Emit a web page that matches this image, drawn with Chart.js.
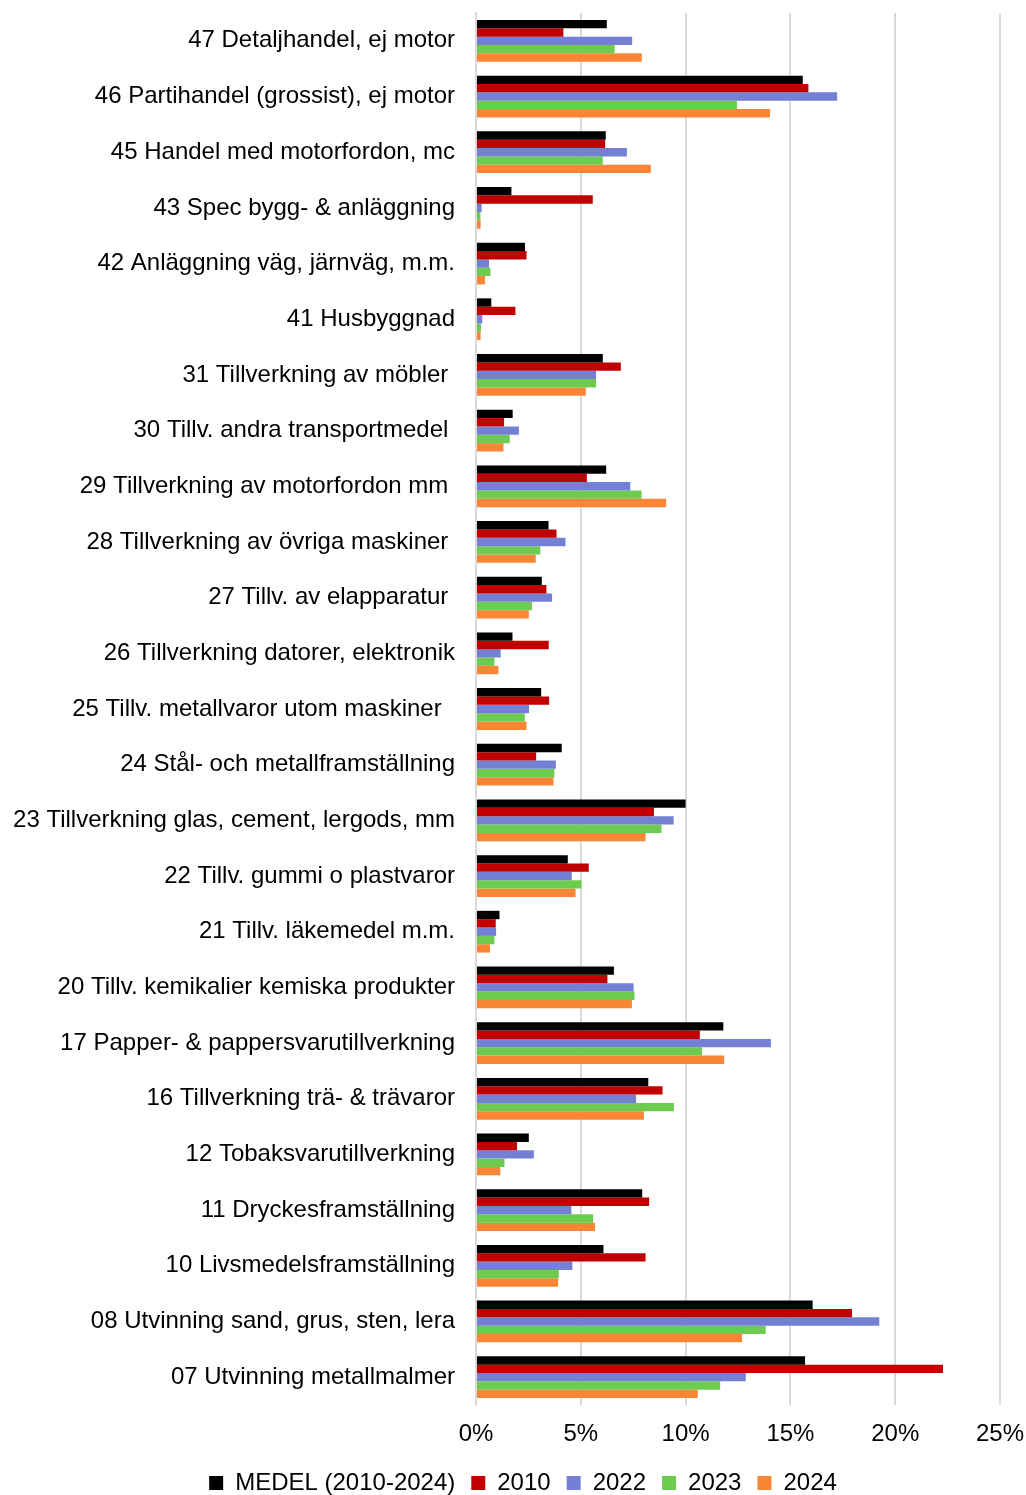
<!DOCTYPE html>
<html>
<head>
<meta charset="utf-8">
<script src="https://cdn.jsdelivr.net/npm/chart.js@4/dist/chart.umd.min.js"></script>
<style>
  html, body { margin: 0; padding: 0; background: #fff; }
  #wrap { width: 1026px; height: 1495px; position: relative; }
</style>
</head>
<body>
<div id="wrap"><canvas id="c" width="1026" height="1495"></canvas></div>
<script>
const categories = [
  '47 Detaljhandel, ej motor',
  '46 Partihandel (grossist), ej motor',
  '45 Handel med motorfordon, mc',
  '43 Spec bygg- & anläggning',
  '42 Anläggning väg, järnväg, m.m.',
  '41 Husbyggnad',
  '31 Tillverkning av möbler ',
  '30 Tillv. andra transportmedel ',
  '29 Tillverkning av motorfordon mm ',
  '28 Tillverkning av övriga maskiner ',
  '27 Tillv. av elapparatur ',
  '26 Tillverkning datorer, elektronik',
  '25 Tillv. metallvaror utom maskiner  ',
  '24 Stål- och metallframställning',
  '23 Tillverkning glas, cement, lergods, mm',
  '22 Tillv. gummi o plastvaror',
  '21 Tillv. läkemedel m.m.',
  '20 Tillv. kemikalier kemiska produkter',
  '17 Papper- & pappersvarutillverkning',
  '16 Tillverkning trä- & trävaror',
  '12 Tobaksvarutillverkning',
  '11 Dryckesframställning',
  '10 Livsmedelsframställning',
  '08 Utvinning sand, grus, sten, lera',
  '07 Utvinning metallmalmer'
];
const seriesNames = ['MEDEL (2010-2024)', '2010', '2022', '2023', '2024'];
const medel = [6.24, 15.59, 6.19, 1.69, 2.34, 0.73, 6.05, 1.75, 6.21, 3.46, 3.14, 1.74, 3.11, 4.09, 10.0, 4.38, 1.12, 6.58, 11.80, 8.22, 2.52, 7.93, 6.08, 16.06, 15.70];
const y2010 = [4.17, 15.86, 6.16, 5.57, 2.41, 1.88, 6.91, 1.34, 5.29, 3.84, 3.36, 3.47, 3.49, 2.87, 8.49, 5.38, 0.94, 6.27, 10.68, 8.90, 1.96, 8.26, 8.09, 17.94, 22.28];
const y2022 = [7.45, 17.23, 7.20, 0.27, 0.62, 0.30, 5.73, 2.05, 7.36, 4.27, 3.63, 1.18, 2.53, 3.81, 9.43, 4.57, 0.96, 7.52, 14.07, 7.64, 2.76, 4.55, 4.60, 19.24, 12.87];
const y2023 = [6.61, 12.45, 6.05, 0.21, 0.69, 0.24, 5.73, 1.61, 7.90, 3.07, 2.67, 0.88, 2.33, 3.74, 8.85, 5.03, 0.88, 7.56, 10.78, 9.44, 1.36, 5.59, 3.95, 13.82, 11.65];
const y2024 = [7.91, 14.03, 8.34, 0.22, 0.43, 0.22, 5.24, 1.31, 9.07, 2.85, 2.52, 1.07, 2.41, 3.70, 8.09, 4.75, 0.67, 7.44, 11.84, 8.01, 1.16, 5.68, 3.92, 12.69, 10.58];
const xTicks = [0, 5, 10, 15, 20, 25];
const colors = ['#000000', '#C00000', '#7480D4', '#6DCC50', '#F88634'];

const seriesValues = [medel, y2010, y2022, y2023, y2024];
const FONT = "'Liberation Sans', Arial, sans-serif";

const legendShift = {
  id: 'legendShift',
  afterLayout(chart) {
    const lg = chart.legend;
    if (lg) { lg.left += 10; lg.right += 10; }
  }
};

new Chart(document.getElementById('c'), {
  type: 'bar',
  data: {
    labels: categories,
    datasets: seriesValues.map((vals, i) => ({
      label: seriesNames[i],
      data: vals,
      backgroundColor: colors[i],
      borderWidth: 0,
      categoryPercentage: 0.75,
      barPercentage: 1.0
    }))
  },
  options: {
    indexAxis: 'y',
    responsive: false,
    animation: false,
    devicePixelRatio: 1,
    layout: { padding: { left: 0, right: 0, top: 13, bottom: -10 } },
    scales: {
      x: {
        min: 0, max: 25,
        afterBuildTicks: (s) => { s.ticks = xTicks.map(v => ({ value: v })); },
        afterFit: (s) => { s.height = 50; s.paddingRight = 26; },
        grid: { color: '#d9d9d9', lineWidth: 2, drawTicks: false },
        border: { display: false },
        ticks: {
          callback: (v) => v + '%',
          font: { family: FONT, size: 24 },
          color: '#000',
          padding: 15,
          maxRotation: 0
        }
      },
      y: {
        afterFit: (s) => { s.width = 476; s.paddingTop = 0; s.paddingBottom = 0; },
        grid: { display: false, drawTicks: false },
        border: { display: true, color: '#d9d9d9', width: 2 },
        ticks: {
          font: { family: FONT, size: 24 },
          color: '#000',
          padding: 21,
          autoSkip: false
        }
      }
    },
    plugins: {
      legend: {
        position: 'bottom',
        labels: {
          boxWidth: 14,
          boxHeight: 14,
          padding: 16,
          color: '#000',
          font: { family: FONT, size: 24 }
        }
      },
      tooltip: { enabled: false }
    }
  },
  plugins: [legendShift]
});
</script>
</body>
</html>
